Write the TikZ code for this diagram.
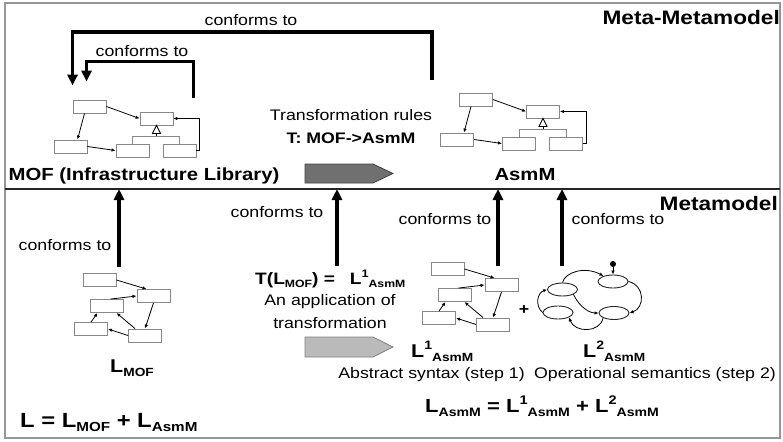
\documentclass[tikz,border=0pt]{standalone}
\usepackage{fontspec}
\setmainfont{Liberation Sans}[FakeStretch=1.16]
\usetikzlibrary{
  arrows.meta,
  positioning,
  calc,
  shapes.geometric
}
\definecolor{FrameGray}{RGB}{150,150,150}
\definecolor{BoxGray}{RGB}{135,135,135}
\definecolor{RuleDark}{RGB}{112,112,112}
\definecolor{RuleLight}{RGB}{186,186,186}
\makeatletter
\newcommand{\lsub}[1]{\raisebox{-0.22em}{\fontsize{\the\dimexpr0.64\dimexpr\f@size pt\relax\relax}{1em}\selectfont#1}}
\newcommand{\lsup}[1]{\raisebox{0.4em}{\fontsize{\the\dimexpr0.66\dimexpr\f@size pt\relax\relax}{1em}\selectfont#1}}
\makeatother
\tikzset{
  umlbox/.style={draw=BoxGray,fill=white,line width=0.9pt,minimum width=33pt,minimum height=13pt,inner sep=0pt},
  link/.style={-{Latex[length=4pt,width=3.5pt]},line width=0.8pt},
  conform/.style={-{Triangle[length=11pt,width=10pt]},line width=3.1pt},
  statenode/.style={ellipse,draw=black!85,line width=0.9pt,minimum width=30pt,minimum height=13pt,inner sep=0pt},
  initdot/.style={circle,fill=black,inner sep=0pt,minimum size=6pt},
  txt/.style={font=\fontsize{15.3}{18}\selectfont,inner sep=0pt},
  txtb/.style={font=\bfseries\fontsize{15.3}{18}\selectfont,inner sep=0pt},
  heading/.style={font=\bfseries\fontsize{19.5}{22}\selectfont,inner sep=0pt},
  modelname/.style={font=\bfseries\fontsize{17.5}{20}\selectfont,inner sep=0pt},
  langname/.style={font=\bfseries\fontsize{18.5}{20}\selectfont,inner sep=0pt},
  langsum/.style={font=\bfseries\fontsize{19}{22}\selectfont,inner sep=0pt},
  trafodark/.style={draw=black!75,fill=RuleDark,line width=0.8pt},
  trafolight/.style={draw=black!50,fill=RuleLight,line width=0.8pt},
  classdiag/.pic={
    \node[umlbox] (-a) at (0,0) {};
    \node[umlbox] (-b) at (67,12) {};
    \node[umlbox] (-c) at (-19,40) {};
    \node[umlbox] (-d) at (43,44) {};
    \node[umlbox] (-e) at (90,44) {};
    \draw[link] (-a.east) -- (-b.west);
    \draw[link] ([xshift=-5pt]-a.south) -- ([xshift=7pt]-c.north);
    \draw[link] (-c.east) -- (-d.west);
    \draw[link] (-e.east) -- ++(3,0) |- (-b.east);
    \draw[line width=0.9pt] ([yshift=-8pt]-b.south) -- ([yshift=-11pt]-b.south);
    \draw[draw=BoxGray,line width=0.9pt] (-d.north) |- ([yshift=-11pt]-b.south) -| (-e.north);
    \draw[line width=0.9pt,fill=white] (-b.south) -- ++(4,8) -- ++(-8,0) -- cycle;
  },
  langdiag/.pic={
    \node[umlbox] (-n1) at (0,0) {};
    \node[umlbox] (-n2) at (54,16) {};
    \node[umlbox] (-n3) at (7,26) {};
    \node[umlbox] (-n4) at (-8.5,49) {};
    \node[umlbox] (-n5) at (45.5,55.5) {};
    \draw[link] (-n1.east) -- ([xshift=-7pt]-n2.north);
    \draw[link] ([xshift=4pt]-n3.north) -- (-n2.west);
    \draw[link] (-n2.south) -- (-n5.north);
    \draw[link] ([xshift=-10pt]-n5.north) -- ([xshift=10pt]-n3.south);
    \draw[link] (-n5.west) -- (-n4.east);
    \draw[link] (-n4.north) -- ([xshift=-9pt]-n3.south);
  }
}
\begin{document}
\begin{tikzpicture}[x=1pt,y=-1pt]
\useasboundingbox (0,0) rectangle (783,441);
\draw[draw=FrameGray,line width=1.8pt] (5,3) rectangle (780,438);
\coordinate (divider) at (5,189);
\draw[black!85,line width=1.2pt] (divider) -- (780,189);
\node[heading,anchor=base east] (meta) at (780,25) {Meta-Metamodel};
\node[heading,anchor=base east] (metamodel) at (778,210) {Metamodel};

% meta-metamodel level
\pic (mof) at (89.5,106.5) {classdiag};
\pic (asm) at (476,99.5) {classdiag};
\node[modelname,anchor=base] (mofname) at (144,180) {MOF (Infrastructure Library)};
\node[modelname,anchor=base] (asmname) at (525,180) {AsmM};
\coordinate (asmtop) at (432,80);
\coordinate (mofself) at ([xshift=20pt,yshift=14pt]mof-b.north east);
\draw[conform] (asmtop) -- ++(0,-48) -| ([yshift=14pt]mof-a.north west);
\draw[conform] (mofself) -- ++(0,-36) -| ([xshift=14pt,yshift=18pt]mof-a.north west);
\node[txt,anchor=base] (cfouter) at (251,26) {conforms to};
\node[txt,anchor=base] (cfinner) at (142,57) {conforms to};
\node[txt,anchor=base] (rules) at (351,120) {Transformation rules};
\node[txtb,anchor=base] (rulest) at ([yshift=-23pt]rules.base) {T: MOF->AsmM};
\draw[trafodark] (305,164) -- (373,164) -- (393,173.5) -- (373,183) -- (305,183) -- cycle;

% metamodel level
\pic (lmof) at (99.5,280) {langdiag};
\pic (lasm) at (447.5,269) {langdiag};
\node[langname,anchor=base west] (lmofname) at (110,372) {L\lsub{MOF}};
\node[langsum,font=\bfseries\fontsize{20.5}{24}\selectfont,anchor=base west] (lsum) at (20,427) {L = L\lsub{MOF} + L\lsub{AsmM}};
\node[txtb,font=\bfseries\fontsize{16.5}{18}\selectfont,anchor=base west] (tapp) at (255,284) {T(L\lsub{MOF}) =\hspace{0.9em}L\lsup{1}\lsub{AsmM}};
\node[txt,anchor=base] (app1) at (330,305) {An application of};
\node[txt,anchor=base] (app2) at ([yshift=-23pt]app1.base) {transformation};
\draw[trafolight] (305,337) -- (373,337) -- (393,347) -- (373,357) -- (305,357) -- cycle;
\node[langname,anchor=base west] (l1name) at (411,357) {L\lsup{1}\lsub{AsmM}};
\node[langname,anchor=base west] (l2name) at (583,357) {L\lsup{2}\lsub{AsmM}};
\node[txt,anchor=base] (absyn) at (431.5,378) {Abstract syntax (step 1)};
\node[txt,anchor=base] (opsem) at (655,378) {Operational semantics (step 2)};
\node[langsum,anchor=base west] (lasmsum) at (425,412) {L\lsub{AsmM} = L\lsup{1}\lsub{AsmM} + L\lsup{2}\lsub{AsmM}};
\node[txtb] (plus) at (524,310) {+};

% operational semantics
\node[statenode] (s1) at (613,281.5) {};
\node[statenode] (s2) at (562.5,289.5) {};
\node[statenode] (s3) at (558,312.5) {};
\node[statenode] (s4) at (614,313) {};
\node[initdot] (init) at (613,264) {};
\draw[link] (init) -- (s1);
\draw[link] (s2.north) .. controls (565,272) and (585,266) .. (s1.150);
\draw[link] (s3.west) .. controls (535,306) and (537,293) .. (s2.west);
\draw[link] (s1.east) .. controls (645,285) and (645,308) .. (s4.east);
\draw[link] (s4.south west) .. controls (600,333) and (575,333) .. (s3.south east);
\draw[link] (s2.south east) .. controls (580,308) and (590,313) .. (s4.west);

% conforms to arrows
\coordinate (c1) at (119,267);
\coordinate (c2) at (337,266);
\coordinate (c3) at (498,266);
\coordinate (c4) at (562,266);
\foreach \c in {c1,c2,c3,c4}{
  \draw[conform] (\c) -- (\c |- divider);
}
\node[txt,anchor=base] (cf1) at (65,250) {conforms to};
\node[txt,anchor=base] (cf2) at (277,217) {conforms to};
\node[txt,anchor=base] (cf3) at (445,224) {conforms to};
\node[txt,anchor=base] (cf4) at (618,224) {conforms to};
\end{tikzpicture}
\end{document}
